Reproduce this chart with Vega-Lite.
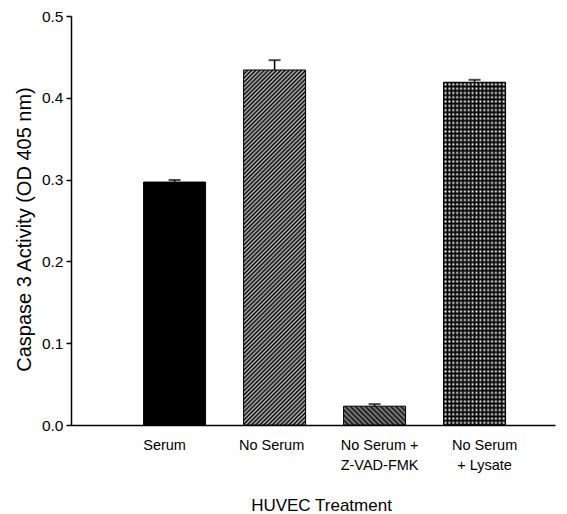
{
  "$schema": "https://vega.github.io/schema/vega-lite/v6.json",
  "width": 484,
  "height": 409,
  "autosize": "none",
  "padding": {"left": 71, "top": 16, "right": 12, "bottom": 89},
  "background": "white",
  "config": {
    "view": {"stroke": null},
    "font": "Liberation Sans",
    "axis": {"labelColor": "black", "titleColor": "black", "domainColor": "black", "tickColor": "black", "titleFontWeight": "normal", "grid": false}
  },
  "data": {
    "values": [
      {"treatment": "Serum", "mean": 0.297, "upper": 0.2995},
      {"treatment": "No Serum", "mean": 0.434, "upper": 0.446},
      {"treatment": "No Serum + Z-VAD-FMK", "mean": 0.023, "upper": 0.0255},
      {"treatment": "No Serum + Lysate", "mean": 0.419, "upper": 0.422}
    ]
  },
  "encoding": {
    "x": {
      "field": "treatment",
      "type": "nominal",
      "scale": {"domain": ["Serum", "No Serum", "No Serum + Z-VAD-FMK", "No Serum + Lysate"], "paddingInner": 0.38, "paddingOuter": 0.61, "align": 0.595},
      "axis": {
        "title": "HUVEC Treatment",
        "titleFontSize": 17,
        "titleX": 250,
        "titleY": 85,
        "titleBaseline": "alphabetic",
        "titleAlign": "center",
        "labelAngle": 0,
        "ticks": false,
        "domainWidth": 1.5,
        "labelFontSize": 14.5,
        "labelPadding": 13,
        "labelLineHeight": 20,
        "labelExpr": "datum.value == 'No Serum + Z-VAD-FMK' ? ['No Serum +', 'Z-VAD-FMK'] : datum.value == 'No Serum + Lysate' ? ['No Serum', '+ Lysate'] : datum.value",
        "labelOffset": {"condition": [{"test": "datum.value == 'Serum'", "value": -10}, {"test": "datum.value == 'No Serum'", "value": -3}, {"test": "datum.value == 'No Serum + Z-VAD-FMK'", "value": 5}], "value": 10}
      }
    },
    "y": {
      "field": "mean",
      "type": "quantitative",
      "scale": {"domain": [0, 0.5], "nice": false},
      "axis": {
        "title": "Caspase 3 Activity (OD 405 nm)",
        "titleFontSize": 20,
        "titleX": -41,
        "titleY": 213,
        "titleBaseline": "alphabetic",
        "titleAlign": "center",
        "titleAngle": -90,
        "values": [0, 0.1, 0.2, 0.3, 0.4, 0.5],
        "format": ".1f",
        "labelFontSize": 15.5,
        "labelPadding": 3,
        "tickSize": 5,
        "tickWidth": 1.5,
        "domainWidth": 1.5
      }
    }
  },
  "layer": [
    {
      "transform": [{"filter": "datum.treatment == 'Serum'"}],
      "mark": {"type": "bar", "fill": "#000", "stroke": "#000", "strokeWidth": 1}
    },
    {
      "transform": [{"filter": "datum.treatment == 'No Serum'"}],
      "mark": {"type": "bar", "stroke": "#000", "strokeWidth": 1,
        "fill": {"gradient": "linear", "x1": 0, "y1": 0, "x2": 0.1991, "y2": 1.1399, "stops": [
          {"offset":0,"color":"#000"},{"offset":0.005,"color":"#bdbdbd"},{"offset":0.01,"color":"#000"},{"offset":0.015,"color":"#bdbdbd"},{"offset":0.02,"color":"#000"},{"offset":0.025,"color":"#bdbdbd"},{"offset":0.03,"color":"#000"},{"offset":0.035,"color":"#bdbdbd"},{"offset":0.04,"color":"#000"},{"offset":0.045,"color":"#bdbdbd"},
          {"offset":0.05,"color":"#000"},{"offset":0.055,"color":"#bdbdbd"},{"offset":0.06,"color":"#000"},{"offset":0.065,"color":"#bdbdbd"},{"offset":0.07,"color":"#000"},{"offset":0.075,"color":"#bdbdbd"},{"offset":0.08,"color":"#000"},{"offset":0.085,"color":"#bdbdbd"},{"offset":0.09,"color":"#000"},{"offset":0.095,"color":"#bdbdbd"},
          {"offset":0.1,"color":"#000"},{"offset":0.105,"color":"#bdbdbd"},{"offset":0.11,"color":"#000"},{"offset":0.115,"color":"#bdbdbd"},{"offset":0.12,"color":"#000"},{"offset":0.125,"color":"#bdbdbd"},{"offset":0.13,"color":"#000"},{"offset":0.135,"color":"#bdbdbd"},{"offset":0.14,"color":"#000"},{"offset":0.145,"color":"#bdbdbd"},
          {"offset":0.15,"color":"#000"},{"offset":0.155,"color":"#bdbdbd"},{"offset":0.16,"color":"#000"},{"offset":0.165,"color":"#bdbdbd"},{"offset":0.17,"color":"#000"},{"offset":0.175,"color":"#bdbdbd"},{"offset":0.18,"color":"#000"},{"offset":0.185,"color":"#bdbdbd"},{"offset":0.19,"color":"#000"},{"offset":0.195,"color":"#bdbdbd"},
          {"offset":0.2,"color":"#000"},{"offset":0.205,"color":"#bdbdbd"},{"offset":0.21,"color":"#000"},{"offset":0.215,"color":"#bdbdbd"},{"offset":0.22,"color":"#000"},{"offset":0.225,"color":"#bdbdbd"},{"offset":0.23,"color":"#000"},{"offset":0.235,"color":"#bdbdbd"},{"offset":0.24,"color":"#000"},{"offset":0.245,"color":"#bdbdbd"},
          {"offset":0.25,"color":"#000"},{"offset":0.255,"color":"#bdbdbd"},{"offset":0.26,"color":"#000"},{"offset":0.265,"color":"#bdbdbd"},{"offset":0.27,"color":"#000"},{"offset":0.275,"color":"#bdbdbd"},{"offset":0.28,"color":"#000"},{"offset":0.285,"color":"#bdbdbd"},{"offset":0.29,"color":"#000"},{"offset":0.295,"color":"#bdbdbd"},
          {"offset":0.3,"color":"#000"},{"offset":0.305,"color":"#bdbdbd"},{"offset":0.31,"color":"#000"},{"offset":0.315,"color":"#bdbdbd"},{"offset":0.32,"color":"#000"},{"offset":0.325,"color":"#bdbdbd"},{"offset":0.33,"color":"#000"},{"offset":0.335,"color":"#bdbdbd"},{"offset":0.34,"color":"#000"},{"offset":0.345,"color":"#bdbdbd"},
          {"offset":0.35,"color":"#000"},{"offset":0.355,"color":"#bdbdbd"},{"offset":0.36,"color":"#000"},{"offset":0.365,"color":"#bdbdbd"},{"offset":0.37,"color":"#000"},{"offset":0.375,"color":"#bdbdbd"},{"offset":0.38,"color":"#000"},{"offset":0.385,"color":"#bdbdbd"},{"offset":0.39,"color":"#000"},{"offset":0.395,"color":"#bdbdbd"},
          {"offset":0.4,"color":"#000"},{"offset":0.405,"color":"#bdbdbd"},{"offset":0.41,"color":"#000"},{"offset":0.415,"color":"#bdbdbd"},{"offset":0.42,"color":"#000"},{"offset":0.425,"color":"#bdbdbd"},{"offset":0.43,"color":"#000"},{"offset":0.435,"color":"#bdbdbd"},{"offset":0.44,"color":"#000"},{"offset":0.445,"color":"#bdbdbd"},
          {"offset":0.45,"color":"#000"},{"offset":0.455,"color":"#bdbdbd"},{"offset":0.46,"color":"#000"},{"offset":0.465,"color":"#bdbdbd"},{"offset":0.47,"color":"#000"},{"offset":0.475,"color":"#bdbdbd"},{"offset":0.48,"color":"#000"},{"offset":0.485,"color":"#bdbdbd"},{"offset":0.49,"color":"#000"},{"offset":0.495,"color":"#bdbdbd"},
          {"offset":0.5,"color":"#000"},{"offset":0.505,"color":"#bdbdbd"},{"offset":0.51,"color":"#000"},{"offset":0.515,"color":"#bdbdbd"},{"offset":0.52,"color":"#000"},{"offset":0.525,"color":"#bdbdbd"},{"offset":0.53,"color":"#000"},{"offset":0.535,"color":"#bdbdbd"},{"offset":0.54,"color":"#000"},{"offset":0.545,"color":"#bdbdbd"},
          {"offset":0.55,"color":"#000"},{"offset":0.555,"color":"#bdbdbd"},{"offset":0.56,"color":"#000"},{"offset":0.565,"color":"#bdbdbd"},{"offset":0.57,"color":"#000"},{"offset":0.575,"color":"#bdbdbd"},{"offset":0.58,"color":"#000"},{"offset":0.585,"color":"#bdbdbd"},{"offset":0.59,"color":"#000"},{"offset":0.595,"color":"#bdbdbd"},
          {"offset":0.6,"color":"#000"},{"offset":0.605,"color":"#bdbdbd"},{"offset":0.61,"color":"#000"},{"offset":0.615,"color":"#bdbdbd"},{"offset":0.62,"color":"#000"},{"offset":0.625,"color":"#bdbdbd"},{"offset":0.63,"color":"#000"},{"offset":0.635,"color":"#bdbdbd"},{"offset":0.64,"color":"#000"},{"offset":0.645,"color":"#bdbdbd"},
          {"offset":0.65,"color":"#000"},{"offset":0.655,"color":"#bdbdbd"},{"offset":0.66,"color":"#000"},{"offset":0.665,"color":"#bdbdbd"},{"offset":0.67,"color":"#000"},{"offset":0.675,"color":"#bdbdbd"},{"offset":0.68,"color":"#000"},{"offset":0.685,"color":"#bdbdbd"},{"offset":0.69,"color":"#000"},{"offset":0.695,"color":"#bdbdbd"},
          {"offset":0.7,"color":"#000"},{"offset":0.705,"color":"#bdbdbd"},{"offset":0.71,"color":"#000"},{"offset":0.715,"color":"#bdbdbd"},{"offset":0.72,"color":"#000"},{"offset":0.725,"color":"#bdbdbd"},{"offset":0.73,"color":"#000"},{"offset":0.735,"color":"#bdbdbd"},{"offset":0.74,"color":"#000"},{"offset":0.745,"color":"#bdbdbd"},
          {"offset":0.75,"color":"#000"},{"offset":0.755,"color":"#bdbdbd"},{"offset":0.76,"color":"#000"},{"offset":0.765,"color":"#bdbdbd"},{"offset":0.77,"color":"#000"},{"offset":0.775,"color":"#bdbdbd"},{"offset":0.78,"color":"#000"},{"offset":0.785,"color":"#bdbdbd"},{"offset":0.79,"color":"#000"},{"offset":0.795,"color":"#bdbdbd"},
          {"offset":0.8,"color":"#000"},{"offset":0.805,"color":"#bdbdbd"},{"offset":0.81,"color":"#000"},{"offset":0.815,"color":"#bdbdbd"},{"offset":0.82,"color":"#000"},{"offset":0.825,"color":"#bdbdbd"},{"offset":0.83,"color":"#000"},{"offset":0.835,"color":"#bdbdbd"},{"offset":0.84,"color":"#000"},{"offset":0.845,"color":"#bdbdbd"},
          {"offset":0.85,"color":"#000"},{"offset":0.855,"color":"#bdbdbd"},{"offset":0.86,"color":"#000"},{"offset":0.865,"color":"#bdbdbd"},{"offset":0.87,"color":"#000"},{"offset":0.875,"color":"#bdbdbd"},{"offset":0.88,"color":"#000"},{"offset":0.885,"color":"#bdbdbd"},{"offset":0.89,"color":"#000"},{"offset":0.895,"color":"#bdbdbd"},
          {"offset":0.9,"color":"#000"},{"offset":0.905,"color":"#bdbdbd"},{"offset":0.91,"color":"#000"},{"offset":0.915,"color":"#bdbdbd"},{"offset":0.92,"color":"#000"},{"offset":0.925,"color":"#bdbdbd"},{"offset":0.93,"color":"#000"},{"offset":0.935,"color":"#bdbdbd"},{"offset":0.94,"color":"#000"},{"offset":0.945,"color":"#bdbdbd"},
          {"offset":0.95,"color":"#000"},{"offset":0.955,"color":"#bdbdbd"},{"offset":0.96,"color":"#000"},{"offset":0.965,"color":"#bdbdbd"},{"offset":0.97,"color":"#000"},{"offset":0.975,"color":"#bdbdbd"},{"offset":0.98,"color":"#000"},{"offset":0.985,"color":"#bdbdbd"},{"offset":0.99,"color":"#000"},{"offset":0.995,"color":"#bdbdbd"},
          {"offset":1,"color":"#000"}
        ]}
      }
    },
    {
      "transform": [{"filter": "datum.treatment == 'No Serum + Z-VAD-FMK'"}],
      "mark": {"type": "bar", "stroke": "#000", "strokeWidth": 1,
        "fill": {"gradient": "linear", "x1": 0, "y1": 1, "x2": 1.1935, "y2": 0.6381, "stops": [
          {"offset":0,"color":"#111"},{"offset":0.03125,"color":"#8a8a8a"},{"offset":0.0625,"color":"#111"},{"offset":0.09375,"color":"#8a8a8a"},
          {"offset":0.125,"color":"#111"},{"offset":0.15625,"color":"#8a8a8a"},{"offset":0.1875,"color":"#111"},{"offset":0.21875,"color":"#8a8a8a"},
          {"offset":0.25,"color":"#111"},{"offset":0.28125,"color":"#8a8a8a"},{"offset":0.3125,"color":"#111"},{"offset":0.34375,"color":"#8a8a8a"},
          {"offset":0.375,"color":"#111"},{"offset":0.40625,"color":"#8a8a8a"},{"offset":0.4375,"color":"#111"},{"offset":0.46875,"color":"#8a8a8a"},
          {"offset":0.5,"color":"#111"},{"offset":0.53125,"color":"#8a8a8a"},{"offset":0.5625,"color":"#111"},{"offset":0.59375,"color":"#8a8a8a"},
          {"offset":0.625,"color":"#111"},{"offset":0.65625,"color":"#8a8a8a"},{"offset":0.6875,"color":"#111"},{"offset":0.71875,"color":"#8a8a8a"},
          {"offset":0.75,"color":"#111"},{"offset":0.78125,"color":"#8a8a8a"},{"offset":0.8125,"color":"#111"},{"offset":0.84375,"color":"#8a8a8a"},
          {"offset":0.875,"color":"#111"},{"offset":0.90625,"color":"#8a8a8a"},{"offset":0.9375,"color":"#111"},{"offset":0.96875,"color":"#8a8a8a"},
          {"offset":1,"color":"#111"}
        ]}
      }
    },
    {
      "transform": [{"filter": "datum.treatment == 'No Serum + Lysate'"}],
      "mark": {"type": "bar", "fill": "#fff", "strokeWidth": 0}
    },
    {
      "transform": [{"filter": "datum.treatment == 'No Serum + Lysate'"}],
      "mark": {"type": "bar", "strokeWidth": 0,
        "fill": {"gradient": "linear", "x1": 0, "y1": 0, "x2": 1, "y2": 0, "stops": [
          {"offset":0,"color":"#000"},{"offset":0.03125,"color":"rgba(0,0,0,0)"},{"offset":0.0625,"color":"#000"},{"offset":0.09375,"color":"rgba(0,0,0,0)"},
          {"offset":0.125,"color":"#000"},{"offset":0.15625,"color":"rgba(0,0,0,0)"},{"offset":0.1875,"color":"#000"},{"offset":0.21875,"color":"rgba(0,0,0,0)"},
          {"offset":0.25,"color":"#000"},{"offset":0.28125,"color":"rgba(0,0,0,0)"},{"offset":0.3125,"color":"#000"},{"offset":0.34375,"color":"rgba(0,0,0,0)"},
          {"offset":0.375,"color":"#000"},{"offset":0.40625,"color":"rgba(0,0,0,0)"},{"offset":0.4375,"color":"#000"},{"offset":0.46875,"color":"rgba(0,0,0,0)"},
          {"offset":0.5,"color":"#000"},{"offset":0.53125,"color":"rgba(0,0,0,0)"},{"offset":0.5625,"color":"#000"},{"offset":0.59375,"color":"rgba(0,0,0,0)"},
          {"offset":0.625,"color":"#000"},{"offset":0.65625,"color":"rgba(0,0,0,0)"},{"offset":0.6875,"color":"#000"},{"offset":0.71875,"color":"rgba(0,0,0,0)"},
          {"offset":0.75,"color":"#000"},{"offset":0.78125,"color":"rgba(0,0,0,0)"},{"offset":0.8125,"color":"#000"},{"offset":0.84375,"color":"rgba(0,0,0,0)"},
          {"offset":0.875,"color":"#000"},{"offset":0.90625,"color":"rgba(0,0,0,0)"},{"offset":0.9375,"color":"#000"},{"offset":0.96875,"color":"rgba(0,0,0,0)"},
          {"offset":1,"color":"#000"}
        ]}
      }
    },
    {
      "transform": [{"filter": "datum.treatment == 'No Serum + Lysate'"}],
      "mark": {"type": "bar", "stroke": "#000", "strokeWidth": 1,
        "fill": {"gradient": "linear", "x1": 0, "y1": 0, "x2": 0, "y2": 1, "stops": [
          {"offset":0,"color":"#000"},{"offset":0.00625,"color":"rgba(0,0,0,0)"},{"offset":0.0125,"color":"#000"},{"offset":0.01875,"color":"rgba(0,0,0,0)"},{"offset":0.025,"color":"#000"},{"offset":0.03125,"color":"rgba(0,0,0,0)"},{"offset":0.0375,"color":"#000"},{"offset":0.04375,"color":"rgba(0,0,0,0)"},
          {"offset":0.05,"color":"#000"},{"offset":0.05625,"color":"rgba(0,0,0,0)"},{"offset":0.0625,"color":"#000"},{"offset":0.06875,"color":"rgba(0,0,0,0)"},{"offset":0.075,"color":"#000"},{"offset":0.08125,"color":"rgba(0,0,0,0)"},{"offset":0.0875,"color":"#000"},{"offset":0.09375,"color":"rgba(0,0,0,0)"},
          {"offset":0.1,"color":"#000"},{"offset":0.10625,"color":"rgba(0,0,0,0)"},{"offset":0.1125,"color":"#000"},{"offset":0.11875,"color":"rgba(0,0,0,0)"},{"offset":0.125,"color":"#000"},{"offset":0.13125,"color":"rgba(0,0,0,0)"},{"offset":0.1375,"color":"#000"},{"offset":0.14375,"color":"rgba(0,0,0,0)"},
          {"offset":0.15,"color":"#000"},{"offset":0.15625,"color":"rgba(0,0,0,0)"},{"offset":0.1625,"color":"#000"},{"offset":0.16875,"color":"rgba(0,0,0,0)"},{"offset":0.175,"color":"#000"},{"offset":0.18125,"color":"rgba(0,0,0,0)"},{"offset":0.1875,"color":"#000"},{"offset":0.19375,"color":"rgba(0,0,0,0)"},
          {"offset":0.2,"color":"#000"},{"offset":0.20625,"color":"rgba(0,0,0,0)"},{"offset":0.2125,"color":"#000"},{"offset":0.21875,"color":"rgba(0,0,0,0)"},{"offset":0.225,"color":"#000"},{"offset":0.23125,"color":"rgba(0,0,0,0)"},{"offset":0.2375,"color":"#000"},{"offset":0.24375,"color":"rgba(0,0,0,0)"},
          {"offset":0.25,"color":"#000"},{"offset":0.25625,"color":"rgba(0,0,0,0)"},{"offset":0.2625,"color":"#000"},{"offset":0.26875,"color":"rgba(0,0,0,0)"},{"offset":0.275,"color":"#000"},{"offset":0.28125,"color":"rgba(0,0,0,0)"},{"offset":0.2875,"color":"#000"},{"offset":0.29375,"color":"rgba(0,0,0,0)"},
          {"offset":0.3,"color":"#000"},{"offset":0.30625,"color":"rgba(0,0,0,0)"},{"offset":0.3125,"color":"#000"},{"offset":0.31875,"color":"rgba(0,0,0,0)"},{"offset":0.325,"color":"#000"},{"offset":0.33125,"color":"rgba(0,0,0,0)"},{"offset":0.3375,"color":"#000"},{"offset":0.34375,"color":"rgba(0,0,0,0)"},
          {"offset":0.35,"color":"#000"},{"offset":0.35625,"color":"rgba(0,0,0,0)"},{"offset":0.3625,"color":"#000"},{"offset":0.36875,"color":"rgba(0,0,0,0)"},{"offset":0.375,"color":"#000"},{"offset":0.38125,"color":"rgba(0,0,0,0)"},{"offset":0.3875,"color":"#000"},{"offset":0.39375,"color":"rgba(0,0,0,0)"},
          {"offset":0.4,"color":"#000"},{"offset":0.40625,"color":"rgba(0,0,0,0)"},{"offset":0.4125,"color":"#000"},{"offset":0.41875,"color":"rgba(0,0,0,0)"},{"offset":0.425,"color":"#000"},{"offset":0.43125,"color":"rgba(0,0,0,0)"},{"offset":0.4375,"color":"#000"},{"offset":0.44375,"color":"rgba(0,0,0,0)"},
          {"offset":0.45,"color":"#000"},{"offset":0.45625,"color":"rgba(0,0,0,0)"},{"offset":0.4625,"color":"#000"},{"offset":0.46875,"color":"rgba(0,0,0,0)"},{"offset":0.475,"color":"#000"},{"offset":0.48125,"color":"rgba(0,0,0,0)"},{"offset":0.4875,"color":"#000"},{"offset":0.49375,"color":"rgba(0,0,0,0)"},
          {"offset":0.5,"color":"#000"},{"offset":0.50625,"color":"rgba(0,0,0,0)"},{"offset":0.5125,"color":"#000"},{"offset":0.51875,"color":"rgba(0,0,0,0)"},{"offset":0.525,"color":"#000"},{"offset":0.53125,"color":"rgba(0,0,0,0)"},{"offset":0.5375,"color":"#000"},{"offset":0.54375,"color":"rgba(0,0,0,0)"},
          {"offset":0.55,"color":"#000"},{"offset":0.55625,"color":"rgba(0,0,0,0)"},{"offset":0.5625,"color":"#000"},{"offset":0.56875,"color":"rgba(0,0,0,0)"},{"offset":0.575,"color":"#000"},{"offset":0.58125,"color":"rgba(0,0,0,0)"},{"offset":0.5875,"color":"#000"},{"offset":0.59375,"color":"rgba(0,0,0,0)"},
          {"offset":0.6,"color":"#000"},{"offset":0.60625,"color":"rgba(0,0,0,0)"},{"offset":0.6125,"color":"#000"},{"offset":0.61875,"color":"rgba(0,0,0,0)"},{"offset":0.625,"color":"#000"},{"offset":0.63125,"color":"rgba(0,0,0,0)"},{"offset":0.6375,"color":"#000"},{"offset":0.64375,"color":"rgba(0,0,0,0)"},
          {"offset":0.65,"color":"#000"},{"offset":0.65625,"color":"rgba(0,0,0,0)"},{"offset":0.6625,"color":"#000"},{"offset":0.66875,"color":"rgba(0,0,0,0)"},{"offset":0.675,"color":"#000"},{"offset":0.68125,"color":"rgba(0,0,0,0)"},{"offset":0.6875,"color":"#000"},{"offset":0.69375,"color":"rgba(0,0,0,0)"},
          {"offset":0.7,"color":"#000"},{"offset":0.70625,"color":"rgba(0,0,0,0)"},{"offset":0.7125,"color":"#000"},{"offset":0.71875,"color":"rgba(0,0,0,0)"},{"offset":0.725,"color":"#000"},{"offset":0.73125,"color":"rgba(0,0,0,0)"},{"offset":0.7375,"color":"#000"},{"offset":0.74375,"color":"rgba(0,0,0,0)"},
          {"offset":0.75,"color":"#000"},{"offset":0.75625,"color":"rgba(0,0,0,0)"},{"offset":0.7625,"color":"#000"},{"offset":0.76875,"color":"rgba(0,0,0,0)"},{"offset":0.775,"color":"#000"},{"offset":0.78125,"color":"rgba(0,0,0,0)"},{"offset":0.7875,"color":"#000"},{"offset":0.79375,"color":"rgba(0,0,0,0)"},
          {"offset":0.8,"color":"#000"},{"offset":0.80625,"color":"rgba(0,0,0,0)"},{"offset":0.8125,"color":"#000"},{"offset":0.81875,"color":"rgba(0,0,0,0)"},{"offset":0.825,"color":"#000"},{"offset":0.83125,"color":"rgba(0,0,0,0)"},{"offset":0.8375,"color":"#000"},{"offset":0.84375,"color":"rgba(0,0,0,0)"},
          {"offset":0.85,"color":"#000"},{"offset":0.85625,"color":"rgba(0,0,0,0)"},{"offset":0.8625,"color":"#000"},{"offset":0.86875,"color":"rgba(0,0,0,0)"},{"offset":0.875,"color":"#000"},{"offset":0.88125,"color":"rgba(0,0,0,0)"},{"offset":0.8875,"color":"#000"},{"offset":0.89375,"color":"rgba(0,0,0,0)"},
          {"offset":0.9,"color":"#000"},{"offset":0.90625,"color":"rgba(0,0,0,0)"},{"offset":0.9125,"color":"#000"},{"offset":0.91875,"color":"rgba(0,0,0,0)"},{"offset":0.925,"color":"#000"},{"offset":0.93125,"color":"rgba(0,0,0,0)"},{"offset":0.9375,"color":"#000"},{"offset":0.94375,"color":"rgba(0,0,0,0)"},
          {"offset":0.95,"color":"#000"},{"offset":0.95625,"color":"rgba(0,0,0,0)"},{"offset":0.9625,"color":"#000"},{"offset":0.96875,"color":"rgba(0,0,0,0)"},{"offset":0.975,"color":"#000"},{"offset":0.98125,"color":"rgba(0,0,0,0)"},{"offset":0.9875,"color":"#000"},{"offset":0.99375,"color":"rgba(0,0,0,0)"},
          {"offset":1,"color":"#000"}
        ]}
      }
    },
    {
      "mark": {"type": "rule", "color": "#000", "strokeWidth": 1.5},
      "encoding": {"y2": {"field": "upper"}}
    },
    {
      "mark": {"type": "tick", "color": "#000", "thickness": 2, "size": 12},
      "encoding": {"y": {"field": "upper", "type": "quantitative"}}
    }
  ]
}
